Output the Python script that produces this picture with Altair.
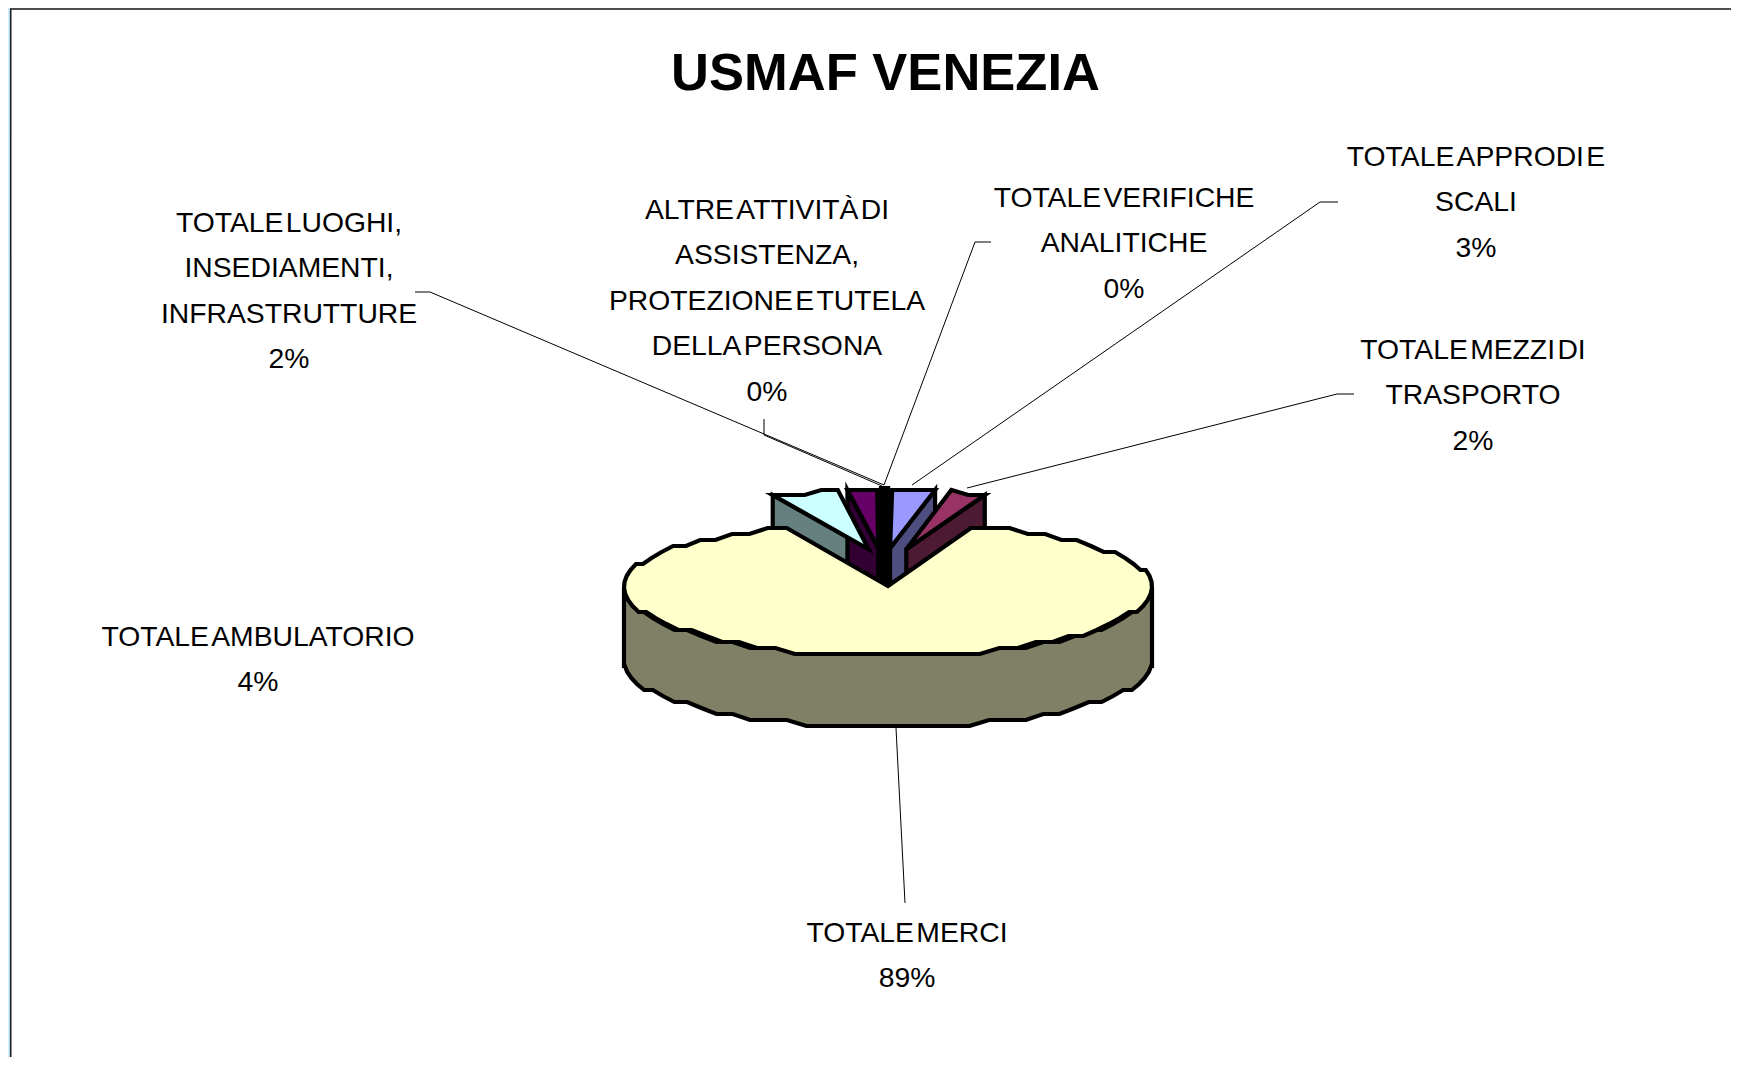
import math
import altair as alt
import pandas as pd

# ---- chart values ----
categories = [
    "TOTALE MERCI",
    "TOTALE AMBULATORIO",
    "TOTALE LUOGHI, INSEDIAMENTI, INFRASTRUTTURE",
    "ALTRE ATTIVITÀ DI ASSISTENZA, PROTEZIONE E TUTELA DELLA PERSONA",
    "TOTALE VERIFICHE ANALITICHE",
    "TOTALE APPRODI E SCALI",
    "TOTALE MEZZI DI TRASPORTO",
]
shares = [88.65, 4.3, 1.9, 0.1, 0.1, 2.75, 2.2]
top_colors = ["#FFFFCC", "#CCFFFF", "#660066", "#000000", "#000000", "#9999FF", "#993366"]
side_colors = ["#808066", "#668080", "#330033", "#000000", "#000000", "#4D4D80", "#4D1A33"]
wrapped = [
    "TOTALE MERCI",
    "TOTALE AMBULATORIO",
    "TOTALE LUOGHI,\nINSEDIAMENTI,\nINFRASTRUTTURE",
    "ALTRE ATTIVITÀ DI\nASSISTENZA,\nPROTEZIONE E TUTELA\nDELLA PERSONA",
    "TOTALE VERIFICHE\nANALITICHE",
    "TOTALE APPRODI E\nSCALI",
    "TOTALE MEZZI DI\nTRASPORTO",
]
title_text = "USMAF VENEZIA"

# ---- layout (page pixels) ----
W, H = 1723, 1049
CX, CY = 888, 586
RX, RY_BACK, RY_FRONT = 264, 64, 70
WALL_SIDE, RY_BOTTOM = 78, 63
SMALL_R, SMALL_RY, SMALL_WALL = 250, 58, 72
EY, SMALL_DX = 38, -4
explode_x = [0, 60, 90, 0, 0, 64, 90]
slice_stroke = [4.2, 4.2, 4.2, 8.0, 8.0, 4.2, 4.2]
WEDGE_START = 18.3
label_pos = [(907, 942), (258, 646), (289, 232), (767, 219), (1124, 207), (1476, 166), (1473, 359)]
leaders = [
    [(905, 903), (896, 728)],
    [],
    [(415, 292), (430, 292), (884, 485)],
    [(764, 419), (764, 435), (882, 486)],
    [(991, 242), (975, 242), (884, 485)],
    [(1338, 202), (1320, 202), (912, 485)],
    [(1354, 394), (1337, 394), (967, 488)],
]

xs = alt.Scale(domain=[8, 8 + W], nice=False, zero=False)
ys = alt.Scale(domain=[8 + H, 8], nice=False, zero=False)


def polygon(points, fill, width, stroke="#000000"):
    pts = list(points) + [points[0], points[1]]
    df = pd.DataFrame({"x": [p[0] for p in pts], "y": [p[1] for p in pts], "i": range(len(pts))})
    return alt.Chart(df).mark_line(
        fill=fill, stroke=stroke, strokeWidth=width, strokeJoin="miter", strokeMiterLimit=6
    ).encode(
        x=alt.X("x:Q", scale=xs, axis=None),
        y=alt.Y("y:Q", scale=ys, axis=None),
        order=alt.Order("i:Q"),
    )


def snap(v, step):
    return round(v / step) * step


def rim(a0, a1, bottom=False):
    """Faceted outline of the big slice between two clockwise angles."""
    n = max(2, int((a1 - a0) / 4.5))
    out = []
    for k in range(n + 1):
        t = math.radians(a0 + (a1 - a0) * k / n)
        c = math.cos(t)
        if bottom:
            y = min(snap(CY + WALL_SIDE - RY_BOTTOM * c, 6), CY + WALL_SIDE + RY_BOTTOM)
        else:
            y = CY - RY_BACK * c if c > 0 else CY - RY_FRONT * c
            y = min(snap(y, 6), CY + RY_FRONT)
        out.append((CX + RX * math.sin(t), y))
    return out


# angles from the shares
angles = []
a = WEDGE_START
for s in shares:
    angles.append((a, a + s * 3.6))
    a += s * 3.6

layers = []
# white sheet
panel = pd.DataFrame({"x": [10.7], "x2": [8 + W + 4], "y": [9], "y2": [8 + H + 4]})
layers.append(
    alt.Chart(panel).mark_rect(fill="#FFFFFF", stroke="#1A1A1A", strokeWidth=1.6).encode(
        x=alt.X("x:Q", scale=xs, axis=None), x2="x2:Q",
        y=alt.Y("y:Q", scale=ys, axis=None), y2="y2:Q",
    )
)

# leader lines
rows = []
for idx, path in enumerate(leaders):
    for j, p in enumerate(path):
        rows.append({"k": idx, "i": j, "x": p[0], "y": p[1]})
layers.append(
    alt.Chart(pd.DataFrame(rows)).mark_line(color="#000000", strokeWidth=1).encode(
        x=alt.X("x:Q", scale=xs, axis=None), y=alt.Y("y:Q", scale=ys, axis=None),
        detail="k:N", order=alt.Order("i:Q"),
    )
)

# exploded small slices
small = list(range(1, len(shares)))
tops = []
for idx in small:
    a0, a1 = angles[idx]
    mid = math.radians((a0 + a1) / 2)
    ax = CX + SMALL_DX + explode_x[idx] * math.sin(mid)
    ay = CY - EY * math.cos(mid)
    arc = []
    n = max(1, int((a1 - a0) / 3.5))
    for k in range(n + 1):
        t = math.radians(a0 + (a1 - a0) * k / n)
        arc.append((ax + SMALL_R * math.sin(t), snap(ay - SMALL_RY * math.cos(t), 5)))
    # the visible wall: outer radial edge of each slice, seen from the front
    left_side = math.sin(mid) < 0
    edge = arc[0] if left_side else arc[-1]
    wall = [(ax, ay), edge, (edge[0], edge[1] + SMALL_WALL), (ax, ay + SMALL_WALL)]
    layers.append(polygon(wall, side_colors[idx], slice_stroke[idx]))
    tops.append((idx, polygon([(ax, ay)] + arc, top_colors[idx], slice_stroke[idx])))
# the two thin slices go first so that their neighbours' faces stay clean
layers.extend(p for i, p in tops if slice_stroke[i] > 5)
layers.extend(p for i, p in tops if slice_stroke[i] <= 5)

# big slice: wall, then top face with the wedge cut out
a0, a1 = angles[0]
front_top = rim(90, 270)
front_bottom = rim(90, 270, bottom=True)
layers.append(polygon(front_top + front_bottom[::-1], side_colors[0], slice_stroke[0]))
layers.append(polygon([(CX, CY)] + rim(a0, a1), top_colors[0], slice_stroke[0]))

# labels
labels = pd.DataFrame({
    "t": [
        (w + "\n" + str(round(s)) + "%").replace(" ", "\u200a")
        for w, s in zip(wrapped, shares)
    ],
    "x": [p[0] for p in label_pos],
    "y": [p[1] for p in label_pos],
})
layers.append(
    alt.Chart(labels).mark_text(
        font="Liberation Sans", fontSize=28.3, color="#000000", align="center",
        baseline="alphabetic", lineBreak="\n", lineHeight=45.4,
    ).encode(
        x=alt.X("x:Q", scale=xs, axis=None), y=alt.Y("y:Q", scale=ys, axis=None), text="t:N"
    )
)
layers.append(
    alt.Chart(pd.DataFrame({"t": [title_text], "x": [885.5], "y": [90]})).mark_text(
        font="Liberation Sans", fontSize=52.5, fontWeight="bold", color="#000000",
        align="center", baseline="alphabetic",
    ).encode(
        x=alt.X("x:Q", scale=xs, axis=None), y=alt.Y("y:Q", scale=ys, axis=None), text="t:N"
    )
)

chart = (
    alt.layer(*layers)
    .properties(width=W, height=H, autosize=alt.AutoSizeParams(type="none"), padding=0,
                background="#CCECFF")
    .configure_view(stroke=None)
)
chart.save("out.html", embed_options={"renderer": "svg", "actions": False})
